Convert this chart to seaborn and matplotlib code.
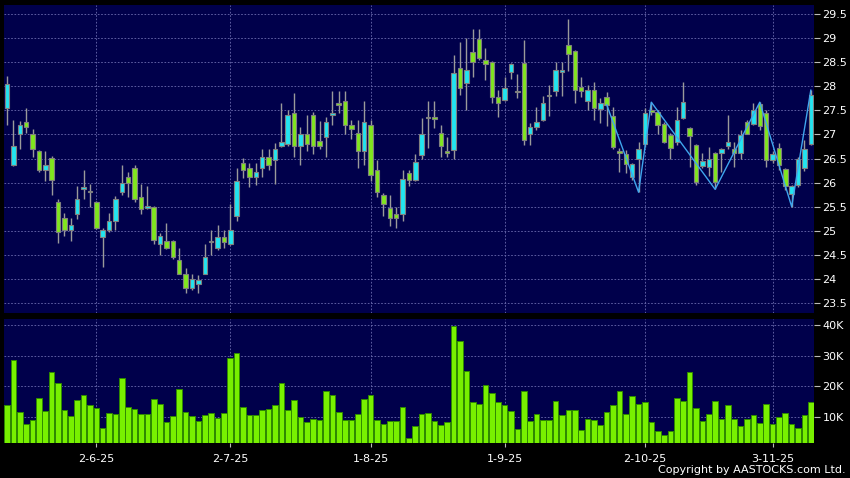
import numpy as np
import pandas as pd
import matplotlib
matplotlib.use("Agg")
from matplotlib import pyplot as plt
from matplotlib.ticker import FuncFormatter
import seaborn as sns

# trading days (HK), 13 May 2025 - 11 Nov 2025
holidays = ["2025-07-01", "2025-10-01", "2025-10-07", "2025-10-29"]
dates = pd.bdate_range("2025-05-13", "2025-11-11")
dates = dates[~dates.isin(pd.to_datetime(holidays))]

opens = [27.55, 26.36, 27.01, 27.26, 27.01, 26.65, 26.26, 26.51, 25.60, 25.26,
         25.01, 25.35, 25.86, 25.80, 25.60, 24.86, 25.01, 25.21, 25.80, 26.11,
         26.30, 25.71, 25.48, 25.50, 24.72, 24.79, 24.79, 24.40, 24.11, 23.81,
         23.90, 24.11, 24.76, 24.65, 24.86, 24.72, 25.31, 26.40, 26.30, 26.11,
         26.30, 26.54, 26.47, 26.76, 26.80, 27.44, 26.76, 27.00, 27.40, 26.86,
         26.94, 27.40, 27.65, 27.69, 27.19, 27.04, 26.66, 27.19, 26.26, 25.74,
         25.47, 25.35, 25.35, 26.19, 26.05, 26.58, 27.36, 27.33, 27.02, 26.62,
         26.67, 28.39, 28.06, 28.72, 28.98, 28.55, 28.50, 27.77, 27.72, 28.29,
         27.88, 28.49, 27.00, 27.15, 27.30, 27.80, 27.91, 28.29, 28.85, 28.74,
         27.99, 27.70, 27.92, 27.52, 27.77, 27.39, 26.64, 26.60, 26.11, 26.49,
         26.81, 27.47, 27.47, 27.22, 26.98, 26.85, 27.34, 27.13, 26.78, 26.35,
         26.32, 26.61, 26.61, 26.77, 26.69, 26.61, 27.25, 27.22, 27.63, 27.44,
         26.47, 26.72, 26.28, 25.76, 25.95, 26.30, 26.81]
highs = [28.21, 27.31, 27.27, 27.55, 27.12, 26.68, 26.66, 26.56, 25.65, 25.36,
         25.26, 25.92, 26.26, 25.97, 25.62, 25.05, 25.36, 25.72, 26.36, 26.23,
         26.36, 25.97, 25.92, 25.52, 24.95, 25.17, 24.80, 24.65, 24.22, 24.11,
         24.07, 24.72, 25.01, 25.11, 25.01, 25.56, 26.30, 26.51, 26.40, 26.40,
         26.69, 26.69, 26.82, 27.65, 27.51, 27.86, 27.15, 27.41, 27.46, 27.27,
         27.37, 27.90, 27.90, 27.90, 27.30, 27.30, 27.69, 27.30, 26.47, 25.79,
         25.74, 25.50, 26.26, 26.26, 26.59, 27.35, 27.70, 27.70, 27.19, 26.95,
         28.65, 28.93, 29.00, 29.19, 29.19, 28.79, 28.52, 27.92, 28.20, 28.48,
         28.25, 28.97, 27.23, 27.58, 27.80, 28.03, 28.51, 28.50, 29.40, 28.76,
         28.20, 28.03, 28.10, 27.75, 27.88, 27.58, 26.72, 26.67, 26.40, 26.85,
         27.55, 27.67, 27.51, 27.25, 27.03, 27.58, 28.08, 27.15, 26.80, 26.61,
         26.74, 26.64, 26.72, 27.41, 26.85, 27.09, 27.31, 27.65, 27.67, 27.51,
         26.65, 26.82, 26.30, 25.95, 26.54, 26.89, 27.93]
lows = [27.19, 26.34, 26.70, 27.04, 26.54, 26.23, 26.04, 25.75, 24.75, 24.90,
        24.78, 25.24, 25.65, 25.50, 25.03, 24.25, 24.97, 25.01, 25.75, 25.71,
        25.60, 25.35, 25.46, 24.72, 24.50, 24.61, 24.41, 24.10, 23.71, 23.76,
        23.71, 24.10, 24.50, 24.60, 24.65, 24.70, 25.21, 26.09, 25.90, 25.95,
        26.11, 26.26, 25.97, 26.74, 26.76, 26.54, 26.36, 26.65, 26.60, 26.70,
        26.54, 27.20, 27.44, 27.01, 26.90, 26.30, 26.36, 26.04, 25.71, 25.31,
        25.10, 25.05, 25.20, 25.92, 26.03, 26.48, 26.71, 27.13, 26.53, 26.53,
        26.50, 27.82, 27.51, 28.20, 28.55, 28.13, 27.65, 27.37, 27.70, 28.15,
        27.75, 26.78, 26.78, 27.09, 27.28, 27.38, 27.80, 27.80, 28.31, 27.65,
        27.78, 27.51, 27.30, 27.23, 27.18, 26.70, 26.23, 26.19, 26.05, 25.80,
        26.74, 27.40, 27.01, 26.82, 26.50, 26.78, 27.32, 26.33, 25.95, 26.30,
        26.14, 25.87, 26.23, 26.70, 26.33, 26.50, 27.00, 27.20, 27.10, 26.33,
        26.40, 26.26, 25.85, 25.50, 25.90, 26.25, 26.78]
closes = [28.05, 26.75, 27.19, 27.15, 26.69, 26.26, 26.36, 26.06, 24.97, 25.01,
          25.11, 25.65, 25.90, 25.80, 25.05, 25.01, 25.21, 25.65, 26.00, 26.00,
          25.65, 25.46, 25.51, 24.81, 24.90, 24.65, 24.46, 24.11, 23.81, 24.00,
          23.97, 24.46, 24.76, 24.86, 24.76, 25.01, 26.04, 26.26, 26.11, 26.21,
          26.54, 26.36, 26.69, 26.85, 27.41, 26.76, 27.00, 26.80, 26.76, 26.76,
          27.26, 27.44, 27.61, 27.20, 27.11, 26.66, 27.25, 26.15, 25.80, 25.55,
          25.26, 25.26, 26.07, 26.05, 26.43, 27.00, 27.34, 27.33, 26.76, 26.62,
          28.27, 27.96, 28.33, 28.51, 28.58, 28.46, 27.77, 27.65, 27.97, 28.46,
          27.88, 26.88, 27.15, 27.26, 27.66, 27.80, 28.33, 28.33, 28.67, 27.92,
          27.90, 27.92, 27.54, 27.65, 27.61, 26.74, 26.62, 26.39, 26.38, 26.69,
          27.44, 27.47, 27.20, 26.85, 26.72, 27.31, 27.67, 26.96, 26.02, 26.44,
          26.49, 26.02, 26.69, 26.85, 26.61, 26.99, 27.01, 27.50, 27.18, 26.47,
          26.60, 26.37, 25.93, 25.92, 26.49, 26.69, 27.83]
# volume, thousands of shares
volume = [14.0, 28.7, 11.6, 7.7, 9.1, 16.3, 11.9, 24.6, 21.0, 12.3,
          10.2, 15.4, 17.2, 14.0, 12.8, 6.5, 11.2, 10.9, 22.8, 13.4,
          12.7, 11.0, 11.0, 16.0, 14.2, 8.3, 10.3, 19.0, 11.7, 10.3,
          8.8, 10.5, 11.2, 9.6, 11.2, 29.2, 31.0, 13.3, 10.8, 10.8,
          12.4, 12.6, 14.0, 21.2, 12.3, 15.5, 9.9, 8.3, 9.2, 8.9,
          18.5, 17.2, 11.5, 9.1, 9.1, 11.1, 16.0, 17.2, 9.1, 7.7,
          8.8, 8.8, 13.4, 3.3, 7.2, 11.0, 11.2, 8.8, 7.3, 8.4,
          39.8, 34.8, 24.9, 14.8, 14.3, 20.3, 17.8, 14.8, 13.8, 11.9,
          6.2, 18.4, 8.6, 11.1, 9.0, 8.9, 15.1, 10.5, 12.2, 12.2,
          5.7, 9.2, 8.9, 7.3, 11.8, 14.0, 18.6, 11.1, 16.8, 14.4,
          14.9, 8.3, 5.6, 4.1, 5.4, 16.3, 15.3, 24.6, 12.8, 8.6,
          11.1, 15.2, 9.5, 14.0, 9.5, 7.2, 9.5, 10.8, 8.1, 14.4,
          7.8, 10.1, 11.3, 7.7, 6.5, 10.8, 15.0]

# zigzag overlay (bar index, price)
zz_idx = [94, 99, 101, 111, 118, 123, 126]
zz_val = [27.62, 25.80, 27.67, 25.86, 27.67, 25.50, 27.92]

df = pd.DataFrame({"date": dates, "open": opens, "high": highs,
                   "low": lows, "close": closes, "volume": volume})
df["i"] = np.arange(len(df))

BG = "#00004b"
GRID = "#6c6cb0"
UP = "#22e4f0"
DOWN = "#80e61e"

plt.rcParams["font.family"] = ["DejaVu Sans"]
fig = plt.figure(figsize=(8.5, 4.78), dpi=100, facecolor="black")
ax1 = fig.add_axes([4 / 850, 1 - 313 / 478, 810 / 850, 308 / 478], facecolor=BG)
ax2 = fig.add_axes([4 / 850, 1 - 443 / 478, 810 / 850, 124 / 478], facecolor=BG)

# month starts for the x ticks
first = df.groupby(df["date"].dt.to_period("M"))["i"].min()
tick_i = [v for v in first.values if v > 0]
tick_lab = [f"{d.day}-{d.month}-{d:%y}" for d in df["date"].iloc[tick_i]]

# candles
up = df["close"] > df["open"]
body_lo = df[["open", "close"]].min(axis=1)
body_h = (df["close"] - df["open"]).abs().clip(lower=0.03)
ax1.vlines(df["i"], df["low"], df["high"], color="#9a9a9a", lw=1, zorder=2)
ax1.bar(df["i"], body_h, bottom=body_lo, width=0.7,
        color=np.where(up, UP, DOWN), edgecolor="#808080", lw=0.8, zorder=3)
ax1.plot(zz_idx, zz_val, color="#3fa6ee", lw=1, zorder=4)

# volume
sns.barplot(x=df["i"], y=df["volume"], native_scale=True, ax=ax2,
            color="#78f000", saturation=1, edgecolor="#2f8a00", linewidth=0.7,
            width=0.88, errorbar=None, zorder=3)
ax2.set_xlabel("")
ax2.set_ylabel("")

ax1.set_ylim(23.29, 29.69)
ax2.set_ylim(1.53, 41.96)
for ax in (ax1, ax2):
    ax.set_xlim(-0.47, 126.5)
    for s in ax.spines.values():
        s.set_visible(False)
    ax.yaxis.tick_right()
    ax.set_xticks(tick_i)
    ax.grid(True, color=GRID, ls=(0, (2, 2)), lw=0.6, zorder=0)
    ax.set_axisbelow(True)
    ax.tick_params(axis="y", colors="#bbbbbb", labelcolor="white",
                   length=4, width=0.8, pad=2, labelsize=8)

ax1.set_yticks(np.arange(23.5, 29.51, 0.5))
ax1.yaxis.set_major_formatter(FuncFormatter(lambda v, p: f"{v:g}"))
ax1.tick_params(axis="x", length=0, labelbottom=False)

ax2.set_yticks([10, 20, 30, 40])
ax2.yaxis.set_major_formatter(FuncFormatter(lambda v, p: f"{v:g}K"))
ax2.set_xticklabels(tick_lab)
ax2.tick_params(axis="x", colors="#bbbbbb", labelcolor="white",
                length=3, width=0.8, pad=5, labelsize=8)

fig.text(0.995, 0.011, "Copyright by AASTOCKS.com Ltd.", color="white",
         fontsize=8, ha="right", va="baseline")

fig.savefig("out.png", dpi=100, facecolor="black")
